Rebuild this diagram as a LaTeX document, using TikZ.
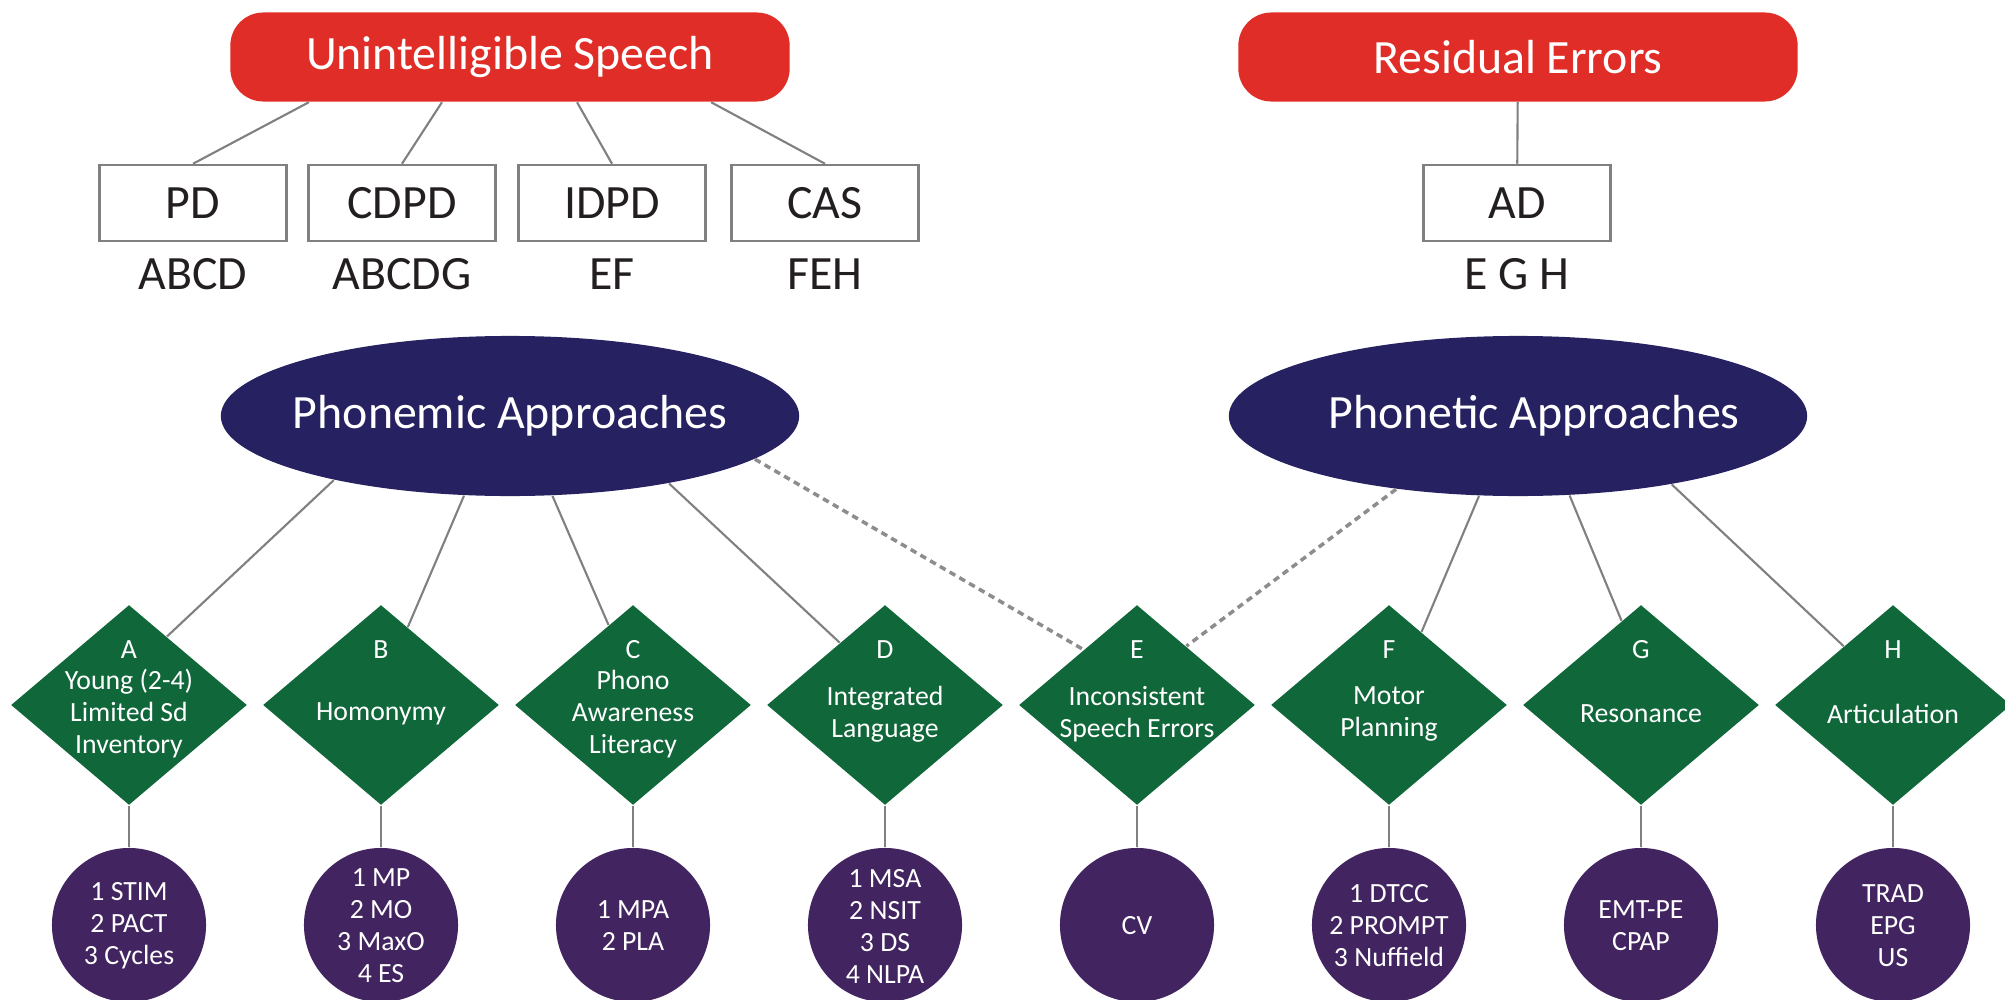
\documentclass[tikz,border=0pt]{standalone}
\usepackage{fontspec}
\setmainfont{Carlito}
\usetikzlibrary{shapes.geometric}
\definecolor{redbox}{RGB}{225,45,39}
\definecolor{navy}{RGB}{38,33,96}
\definecolor{leaf}{RGB}{16,103,58}
\definecolor{plum}{RGB}{66,36,96}
\definecolor{wire}{RGB}{128,128,128}
\definecolor{ink}{RGB}{35,31,32}
\tikzset{
  big/.style={font=\fontsize{13.6}{16}\selectfont},
  small/.style={font=\fontsize{7.9}{9.1}\selectfont, align=center, text=white},
  head/.style={big, fill=redbox, text=white, rounded corners=0.33cm, minimum width=5.59cm, minimum height=0.89cm},
  kind/.style={big, draw=wire, line width=0.7pt, text=ink, minimum width=1.87cm, minimum height=0.76cm, inner sep=0pt},
  approach/.style={ellipse, fill=navy, minimum width=5.78cm, minimum height=1.6cm, inner sep=0pt},
  dmd/.style={diamond, fill=leaf, minimum width=2.36cm, minimum height=2cm, inner sep=0pt},
  tool/.style={circle, fill=plum, minimum size=1.54cm, inner sep=0pt},
  link/.style={draw=wire, line width=0.6pt},
  maybe/.style={draw=wire!90, line width=1pt, dash pattern=on 1.85pt off 1.35pt}
}
\begin{document}
\begin{tikzpicture}[x=0.01cm, y=-0.01cm]
\useasboundingbox (0,0) rectangle (2005,1000);
\node[head] (us) at (510,57) {Unintelligible Speech};
\node[head] (re) at (1518,57) {Residual Errors};
\node[kind] (pd) at (193,203) {PD};
\node[kind] (cdpd) at (402,203) {CDPD};
\node[kind] (idpd) at (612,203) {IDPD};
\node[kind] (cas) at (825,203) {CAS};
\node[kind] (ad) at (1517,203) {AD};
\node[big, text=ink] (pdl) at (193,274) {ABCD};
\node[big, text=ink] (cdpdl) at (402,274) {ABCDG};
\node[big, text=ink] (idpdl) at (612,274) {EF};
\node[big, text=ink] (casl) at (825,274) {FEH};
\node[big, text=ink] (adl) at (1517,274) {E G H};
\draw[link] ([xshift=-2.01cm]us.south) -- (pd.north);
\draw[link] ([xshift=-0.68cm]us.south) -- (cdpd.north);
\draw[link] ([xshift=0.67cm]us.south) -- (idpd.north);
\draw[link] ([xshift=2.01cm]us.south) -- (cas.north);
\draw[link] (re) -- (ad);
\node[approach] (pm) at (510,416) {};
\node[big, text=white] (pml) at (pm) {Phonemic Approaches};
\node[approach] (pt) at (1518,416) {};
\node[big, text=white] (ptl) at (1534,416) {Phonetic Approaches};
\foreach \n/\t/\m [count=\i from 0] in {
  A/{Young (2-4)\\Limited Sd\\Inventory}/{1 STIM\\2 PACT\\3 Cycles},
  B/{Homonymy}/{1 MP\\2 MO\\3 MaxO\\4 ES},
  C/{Phono\\Awareness\\Literacy}/{1 MPA\\2 PLA},
  D/{Integrated\\Language}/{1 MSA\\2 NSIT\\3 DS\\4 NLPA},
  E/{Inconsistent\\Speech Errors}/{CV},
  F/{Motor\\Planning}/{1 DTCC\\2 PROMPT\\3 Nuffield},
  G/{Resonance}/{EMT-PE\\CPAP},
  H/{Articulation}/{TRAD\\EPG\\US}}
{
  \pgfmathsetmacro\xpos{129+252*\i}
  \node[dmd] (d\n) at (\xpos,705) {};
  \node[small] (l\n) at (\xpos,650) {\n};
  \node[small] (t\n) at (\xpos,714) {\t};
  \node[tool] (c\n) at (\xpos,925) {};
  \node[small] (m\n) at (\xpos,926) {\m};
  \draw[link] (d\n) -- (c\n);
}
\draw[link] (pm.200) -- (dA.61);
\draw[link] (pm.240) -- (dB.71);
\draw[link] (pm.298) -- (dC.107);
\draw[link] (pm.337) -- (dD.126);
\draw[maybe] (pm.350) -- (dE.134);
\draw[maybe] (pt.211) -- (dE.50);
\draw[link] (pt.244) -- (dF.66);
\draw[link] (pt.303) -- (dG.103);
\draw[link] (pt.336) -- (dH.130);
\end{tikzpicture}
\end{document}
